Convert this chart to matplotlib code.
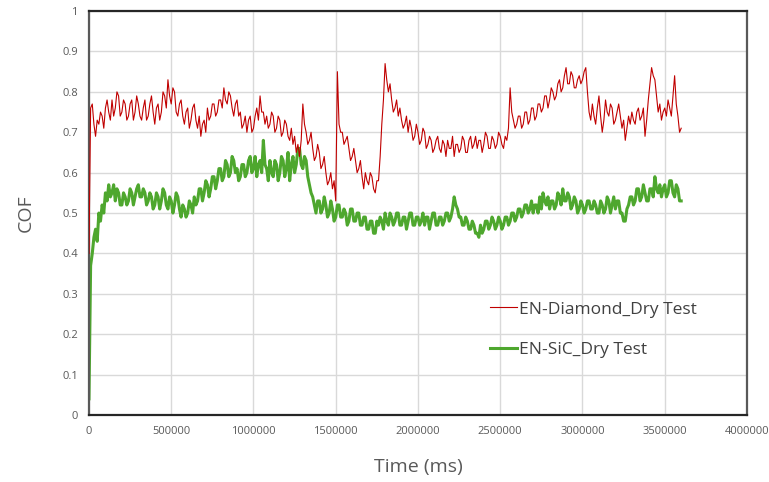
import numpy as np
import matplotlib
matplotlib.use("Agg")
import matplotlib.pyplot as plt
from matplotlib.ticker import FuncFormatter

# COF readings, one every 10000 ms from 0 to 3600000 ms
time_ms = np.arange(0, 3600001, 10000)

diamond_cof = [
    0.40, 0.76, 0.77, 0.72, 0.69, 0.73, 0.72, 0.75, 0.74, 0.71,
    0.76, 0.78, 0.75, 0.73, 0.78, 0.74, 0.76, 0.80, 0.79, 0.74,
    0.75, 0.78, 0.77, 0.73, 0.74, 0.77, 0.78, 0.73, 0.75, 0.79,
    0.77, 0.74, 0.73, 0.76, 0.78, 0.73, 0.74, 0.77, 0.79, 0.75,
    0.72, 0.76, 0.77, 0.73, 0.75, 0.80, 0.79, 0.76, 0.83, 0.79,
    0.77, 0.81, 0.80, 0.75, 0.74, 0.77, 0.78, 0.74, 0.72, 0.75,
    0.76, 0.71, 0.73, 0.76, 0.77, 0.73, 0.71, 0.74, 0.69, 0.72,
    0.73, 0.70, 0.76, 0.73, 0.74, 0.77, 0.77, 0.74, 0.75, 0.78,
    0.78, 0.76, 0.81, 0.78, 0.77, 0.80, 0.79, 0.76, 0.74, 0.77,
    0.78, 0.74, 0.75, 0.71, 0.72, 0.74, 0.70, 0.73, 0.74, 0.70,
    0.71, 0.74, 0.76, 0.73, 0.79, 0.75, 0.75, 0.72, 0.74, 0.71,
    0.72, 0.75, 0.74, 0.70, 0.71, 0.74, 0.73, 0.69, 0.70, 0.73,
    0.72, 0.69, 0.68, 0.71, 0.67, 0.69, 0.65, 0.67, 0.64, 0.68,
    0.77, 0.72, 0.70, 0.67, 0.68, 0.70, 0.66, 0.63, 0.64, 0.67,
    0.65, 0.61, 0.62, 0.64, 0.60, 0.57, 0.58, 0.60, 0.56, 0.58,
    0.53, 0.85, 0.72, 0.70, 0.70, 0.67, 0.68, 0.69, 0.66, 0.63,
    0.64, 0.66, 0.63, 0.60, 0.61, 0.63, 0.59, 0.56, 0.60, 0.58,
    0.57, 0.60, 0.59, 0.56, 0.55, 0.58, 0.58, 0.64, 0.72, 0.78,
    0.87, 0.83, 0.80, 0.82, 0.78, 0.75, 0.76, 0.78, 0.74, 0.76,
    0.73, 0.71, 0.72, 0.74, 0.70, 0.73, 0.71, 0.68, 0.69, 0.72,
    0.70, 0.67, 0.68, 0.71, 0.70, 0.66, 0.67, 0.69, 0.68, 0.65,
    0.66, 0.68, 0.69, 0.66, 0.65, 0.68, 0.67, 0.64, 0.68, 0.66,
    0.66, 0.69, 0.64, 0.67, 0.67, 0.65, 0.66, 0.69, 0.68, 0.65,
    0.65, 0.68, 0.69, 0.66, 0.67, 0.69, 0.66, 0.68, 0.68, 0.65,
    0.67, 0.70, 0.69, 0.66, 0.66, 0.69, 0.68, 0.66, 0.67, 0.70,
    0.69, 0.67, 0.66, 0.69, 0.68, 0.71, 0.81, 0.75, 0.73, 0.71,
    0.72, 0.74, 0.74, 0.71, 0.72, 0.75, 0.75, 0.72, 0.73, 0.76,
    0.76, 0.73, 0.74, 0.77, 0.77, 0.75, 0.76, 0.79, 0.79, 0.76,
    0.78, 0.81, 0.80, 0.78, 0.79, 0.82, 0.83, 0.80, 0.81, 0.84,
    0.86, 0.82, 0.82, 0.85, 0.84, 0.81, 0.81, 0.83, 0.84, 0.82,
    0.83, 0.85, 0.86, 0.80, 0.75, 0.73, 0.77, 0.74, 0.72, 0.76,
    0.79, 0.74, 0.70, 0.73, 0.78, 0.75, 0.74, 0.77, 0.76, 0.72,
    0.73, 0.75, 0.77, 0.74, 0.71, 0.73, 0.68, 0.71, 0.74, 0.72,
    0.75, 0.73, 0.72, 0.75, 0.76, 0.73, 0.74, 0.76, 0.69, 0.73,
    0.78, 0.82, 0.86, 0.84, 0.83, 0.79, 0.75, 0.77, 0.73, 0.75,
    0.76, 0.74, 0.78, 0.76, 0.74, 0.79, 0.84, 0.77, 0.74, 0.70,
    0.71,
]

sic_cof = [
    0.04, 0.37, 0.40, 0.44, 0.46, 0.43, 0.50, 0.48, 0.52, 0.50,
    0.55, 0.53, 0.57, 0.54, 0.55, 0.57, 0.53, 0.56, 0.55, 0.52,
    0.52, 0.55, 0.54, 0.52, 0.53, 0.56, 0.55, 0.52, 0.54, 0.56,
    0.57, 0.54, 0.54, 0.56, 0.55, 0.52, 0.53, 0.55, 0.54, 0.51,
    0.52, 0.55, 0.54, 0.51, 0.53, 0.56, 0.55, 0.52, 0.51, 0.54,
    0.53, 0.50, 0.52, 0.55, 0.54, 0.51, 0.49, 0.52, 0.51, 0.49,
    0.50, 0.53, 0.52, 0.50, 0.54, 0.52, 0.53, 0.56, 0.56, 0.53,
    0.55, 0.58, 0.57, 0.54, 0.56, 0.59, 0.59, 0.56, 0.58, 0.61,
    0.61, 0.58, 0.59, 0.63, 0.62, 0.59, 0.60, 0.64, 0.63, 0.60,
    0.61, 0.58, 0.59, 0.62, 0.62, 0.59, 0.60, 0.63, 0.64, 0.60,
    0.61, 0.64, 0.59, 0.62, 0.63, 0.60, 0.68, 0.62, 0.61, 0.58,
    0.63, 0.60, 0.59, 0.63, 0.62, 0.58, 0.60, 0.64, 0.63, 0.59,
    0.61, 0.65, 0.58, 0.62, 0.64, 0.60, 0.62, 0.66, 0.66, 0.62,
    0.61, 0.64, 0.63, 0.59, 0.57, 0.55, 0.54, 0.52, 0.50, 0.53,
    0.53, 0.50, 0.51, 0.54, 0.52, 0.49, 0.50, 0.53, 0.51, 0.48,
    0.49, 0.52, 0.52, 0.49, 0.49, 0.51, 0.50, 0.47, 0.48, 0.51,
    0.51, 0.48, 0.48, 0.50, 0.50, 0.47, 0.47, 0.49, 0.49, 0.46,
    0.46, 0.48, 0.48, 0.45, 0.45, 0.48, 0.47, 0.49, 0.48, 0.46,
    0.50, 0.48, 0.47, 0.50, 0.49, 0.47, 0.48, 0.50, 0.50, 0.47,
    0.47, 0.49, 0.49, 0.46, 0.48, 0.50, 0.50, 0.47, 0.47, 0.49,
    0.49, 0.47, 0.48, 0.50, 0.47, 0.49, 0.49, 0.46, 0.48, 0.50,
    0.50, 0.47, 0.47, 0.49, 0.49, 0.47, 0.48, 0.50, 0.50, 0.48,
    0.49, 0.51, 0.54, 0.52, 0.51, 0.49, 0.49, 0.47, 0.47, 0.49,
    0.48, 0.46, 0.46, 0.48, 0.47, 0.45, 0.45, 0.44, 0.47, 0.45,
    0.46, 0.48, 0.48, 0.46, 0.47, 0.49, 0.48, 0.46, 0.47, 0.49,
    0.48, 0.46, 0.47, 0.49, 0.49, 0.47, 0.48, 0.50, 0.50, 0.48,
    0.49, 0.51, 0.51, 0.49, 0.50, 0.52, 0.52, 0.50, 0.51, 0.53,
    0.50, 0.52, 0.52, 0.50, 0.54, 0.51, 0.55, 0.53, 0.52, 0.54,
    0.51, 0.53, 0.53, 0.51, 0.52, 0.55, 0.54, 0.52, 0.56, 0.53,
    0.53, 0.55, 0.54, 0.51, 0.52, 0.54, 0.53, 0.50, 0.51, 0.53,
    0.52, 0.50, 0.51, 0.53, 0.53, 0.51, 0.51, 0.53, 0.52, 0.50,
    0.50, 0.53, 0.52, 0.50, 0.51, 0.54, 0.53, 0.50, 0.52, 0.54,
    0.51, 0.53, 0.53, 0.50, 0.50, 0.48, 0.48, 0.51, 0.52, 0.54,
    0.54, 0.52, 0.53, 0.56, 0.56, 0.53, 0.54, 0.57, 0.55, 0.53,
    0.53, 0.56, 0.56, 0.54, 0.59, 0.56, 0.55, 0.57, 0.54, 0.56,
    0.57, 0.54, 0.55, 0.58, 0.58, 0.55, 0.54, 0.57, 0.56, 0.53,
    0.53,
]

series_names = ["EN-Diamond_Dry Test", "EN-SiC_Dry Test"]
x_ticks = np.arange(0, 4000001, 500000)
y_ticks = np.arange(0, 1.01, 0.1)

plt.rcParams['font.family'] = ['Open Sans', 'DejaVu Sans']
text_grey = '#595959'

fig = plt.figure(figsize=(7.69, 4.82), dpi=100)
ax = fig.add_axes([0.1157, 0.139, 0.8557, 0.838])

ax.plot(time_ms, diamond_cof, color='#C00000', lw=0.8, label=series_names[0], zorder=3)
ax.plot(time_ms, sic_cof, color='#4EA72E', lw=2.2, label=series_names[1], zorder=2)

ax.set_xlim(0, 4000000)
ax.set_ylim(0, 1)
ax.set_xticks(x_ticks)
ax.set_yticks(y_ticks)
ax.xaxis.set_major_formatter(FuncFormatter(lambda v, p: f"{int(v)}"))
ax.yaxis.set_major_formatter(FuncFormatter(lambda v, p: f"{v:g}"))
ax.tick_params(length=0, labelsize=8, labelcolor=text_grey, pad=8)
ax.grid(True, color='#d9d9d9', lw=1)
ax.set_axisbelow(True)

for side in ['top', 'bottom']:
    ax.spines[side].set_color('#262626')
    ax.spines[side].set_linewidth(1.6)
for side in ['left', 'right']:
    ax.spines[side].set_color('#595959')
    ax.spines[side].set_linewidth(1.6)

ax.set_xlabel("Time (ms)", fontsize=14, color=text_grey, labelpad=15)
ax.set_ylabel("COF", fontsize=14, color=text_grey, labelpad=20)

ax.legend(loc='upper left', bbox_to_anchor=(0.585, 0.32), frameon=False,
          fontsize=12.5, handlelength=1.6, handletextpad=0.1, labelspacing=1.4,
          labelcolor='#404040')

fig.savefig("out.png", dpi=100)
